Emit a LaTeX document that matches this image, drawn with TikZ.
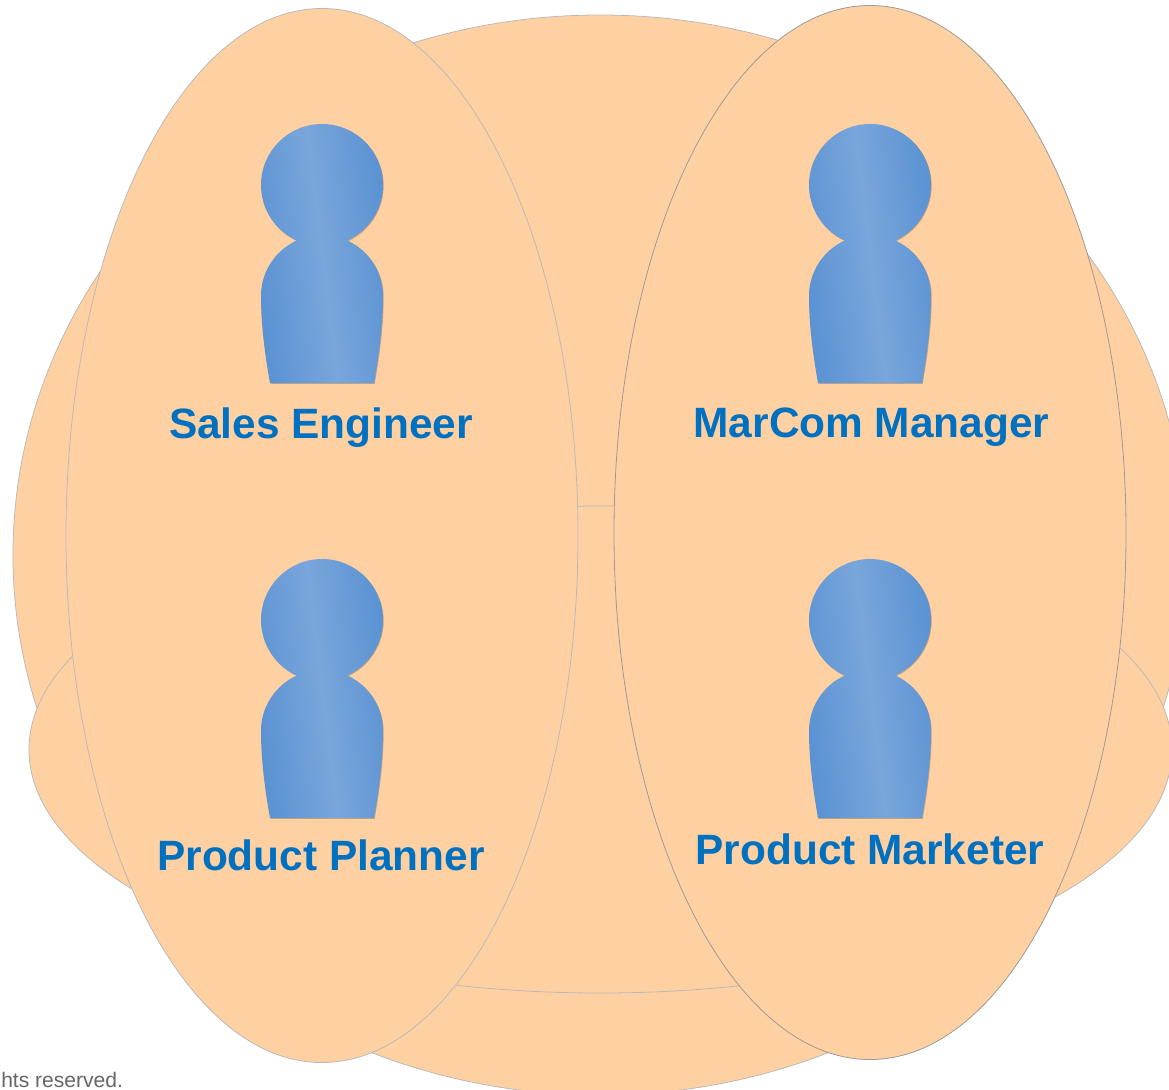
\documentclass[tikz,border=0pt]{standalone}
\usepackage{fontspec}
\setmainfont{Liberation Sans}
\definecolor{peach}{HTML}{FFD1A2}
\definecolor{rimlight}{HTML}{B9B9B9}
\definecolor{rimdark}{HTML}{9A9A9A}
\definecolor{roleblue}{HTML}{0070C0}
\definecolor{figedge}{HTML}{5A92D3}
\definecolor{figmid}{HTML}{79A6DB}
\begin{document}
\begin{tikzpicture}[x=0.75pt,y=-0.75pt,
		blob/.style={fill=peach,draw=rimlight,line width=0.6pt},
		blobdark/.style={blob,draw=rimdark},
		rolelabel/.style={font=\bfseries\fontsize{31.8}{36}\selectfont,text=roleblue,inner sep=0pt},
		person/.pic={
			%shadow first, then the shaded figure
			\fill[black!22!peach,xshift=0.5pt,yshift=-0.6pt] (0,0) circle[radius=61]
				(-61,111) arc[start angle=180,end angle=360,radius=61] .. controls (61,140) and (57,170) .. (52,198) -- (-52,198) .. controls (-57,170) and (-61,140) .. (-61,111) -- cycle;
			\shade[left color=figedge,right color=figedge,middle color=figmid,shading angle=97] (0,0) circle[radius=61]
				(-61,111) arc[start angle=180,end angle=360,radius=61] .. controls (61,140) and (57,170) .. (52,198) -- (-52,198) .. controls (-57,170) and (-61,140) .. (-61,111) -- cycle;
		}]
	\useasboundingbox (0,0) rectangle (1169,1089);

	%back shapes
	\draw[blob] (600,555) ellipse (587 and 540);
	\draw[blob] (600.5,749.5) ellipse (571.5 and 243.5);

	\node[anchor=base west,inner sep=0pt,text=black!60,font=\fontsize{15.8}{18}\selectfont] (rights) at (1,1087) {hts reserved.};

	%the two tall ones
	\draw[blob] (322,535.5) ellipse (256 and 527);
	\draw[blobdark] (870,532.5) ellipse (256 and 527);

	\pic at (322,185) {person};
	\pic at (870,185) {person};
	\pic at (322,620) {person};
	\pic at (870,620) {person};

	\node[rolelabel] (sales) at (321,427.5) {Sales Engineer};
	\node[rolelabel] (marcom) at (871.5,427.5) {MarCom Manager};
	\node[rolelabel] (planner) at (321,855.5) {Product Planner};
	\node[rolelabel] (marketer) at (870,849) {Product Marketer};
\end{tikzpicture}
\end{document}
